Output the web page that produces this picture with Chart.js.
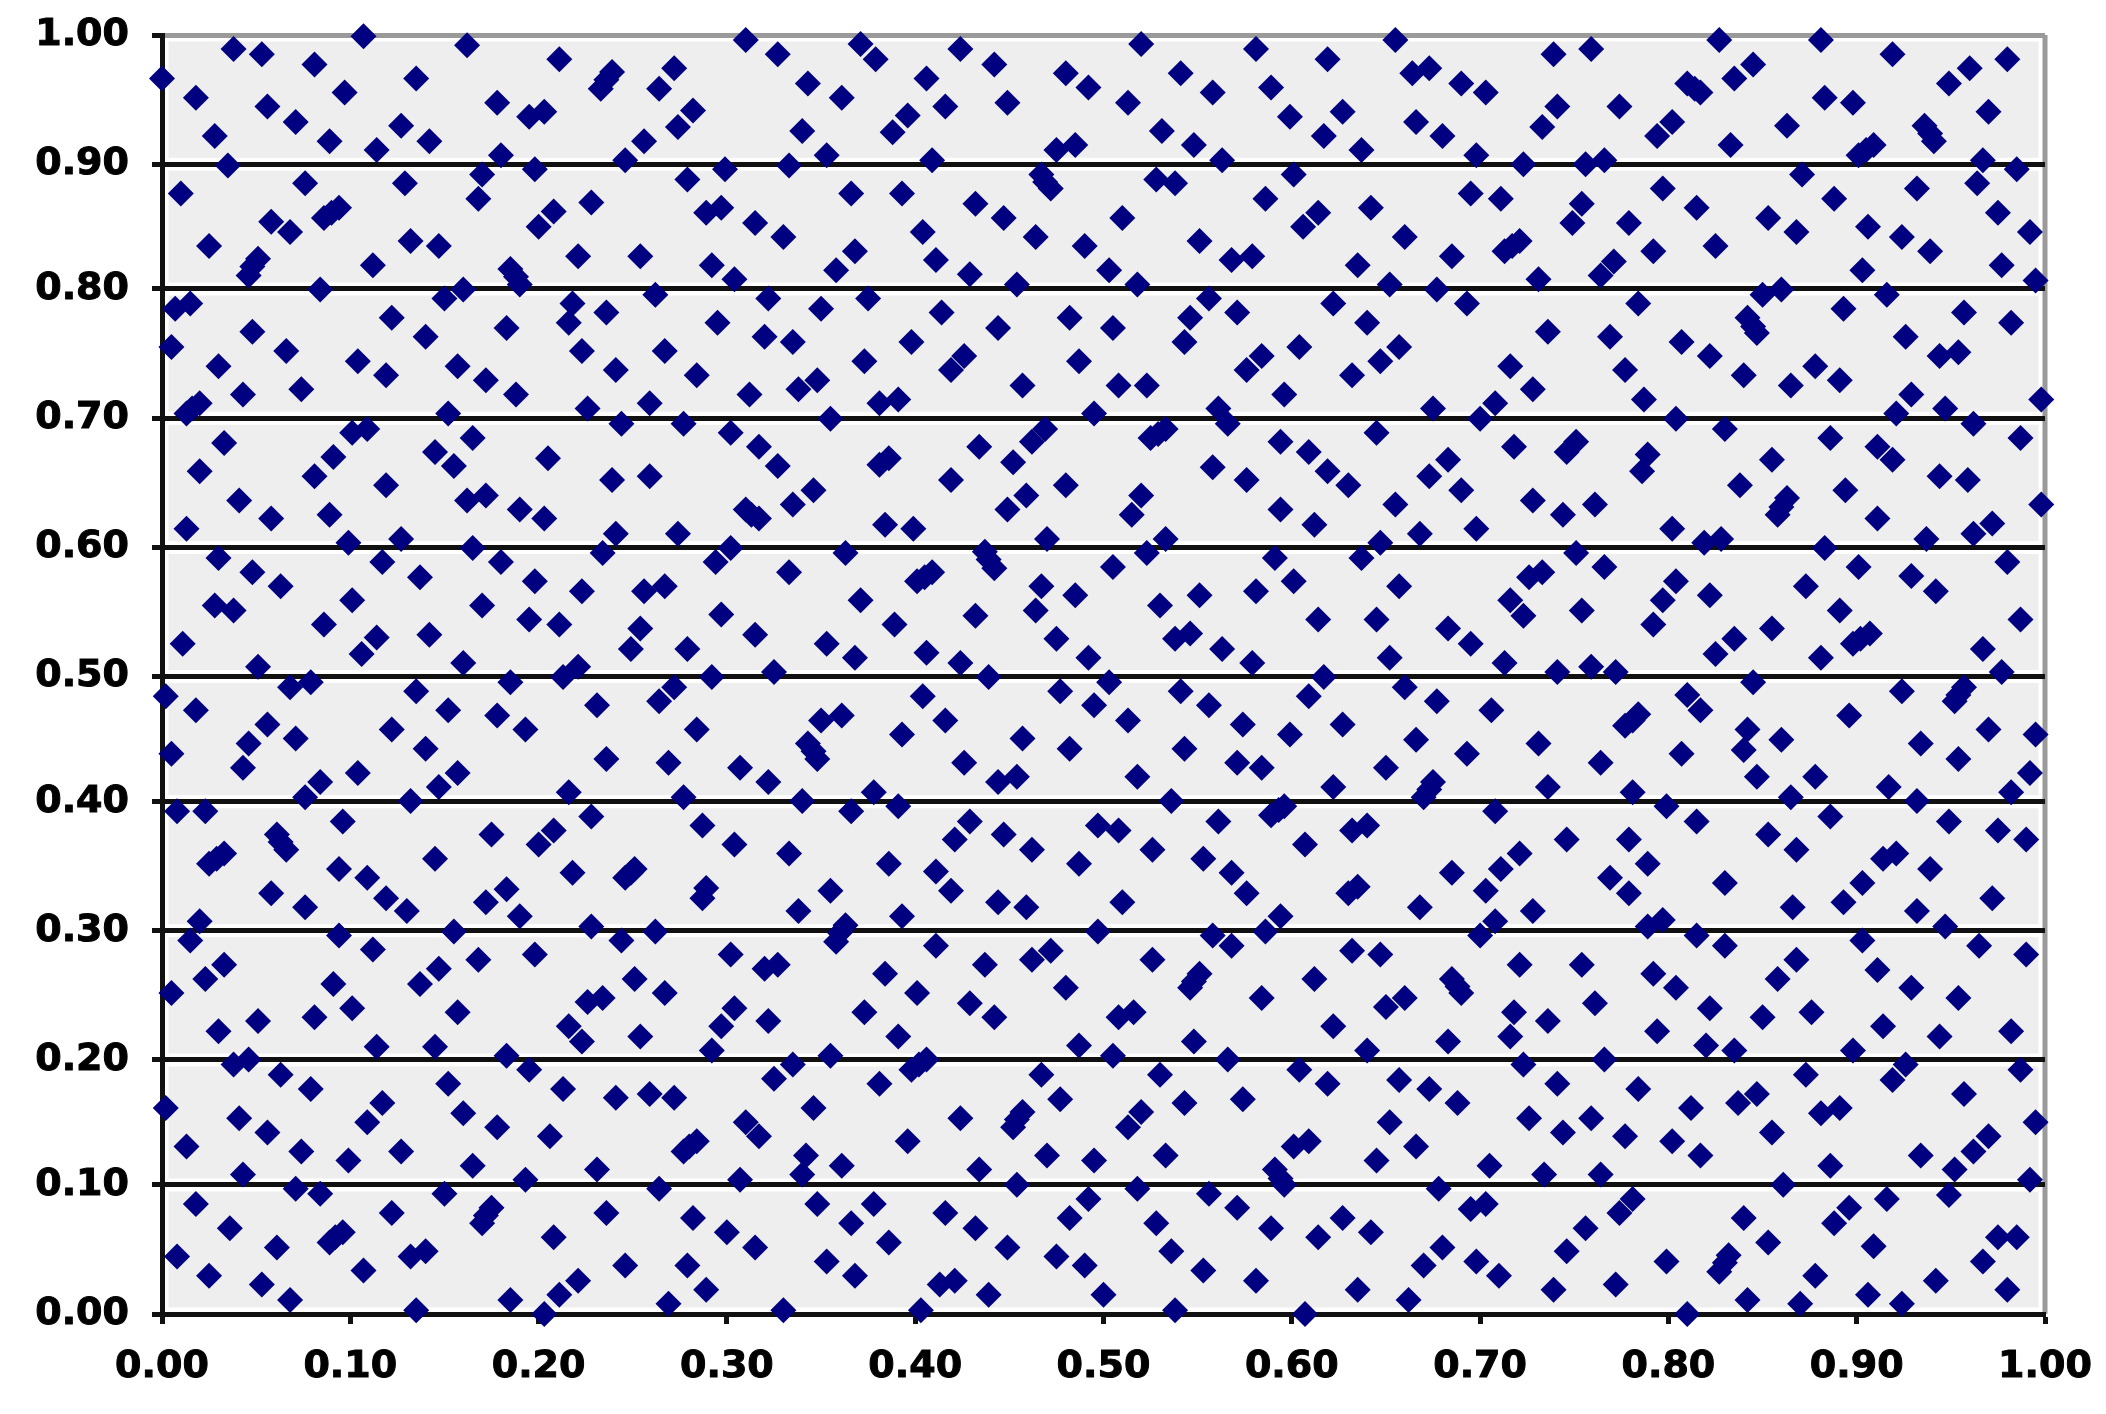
<!DOCTYPE html>
<html>
<head>
<meta charset="utf-8">
<title>Scatter</title>
<script src="https://cdn.jsdelivr.net/npm/chart.js@4/dist/chart.umd.min.js"></script>
<style>
html,body{margin:0;padding:0;background:#fff}
canvas{display:block;filter:blur(0.6px)}
</style>
</head>
<body>
<canvas id="c" width="2106" height="1414"></canvas>
<script>
const xTickLabels = ["0.00","0.10","0.20","0.30","0.40","0.50","0.60","0.70","0.80","0.90","1.00"];
const yTickLabels = ["0.00","0.10","0.20","0.30","0.40","0.50","0.60","0.70","0.80","0.90","1.00"];
const xTickValues = [0,0.1,0.2,0.3,0.4,0.5,0.6,0.7,0.8,0.9,1];
const yTickValues = [0,0.1009,0.1986,0.2996,0.4006,0.4984,0.5993,0.7004,0.8015,0.8990,1];

const pointsTopLeft = [[.107,.999],[.038,.989],[.053,.985],[.081,.977],[0,.966],[.162,.992],[.211,.981],[.239,.971],[.236,.965],[.233,.958],[.272,.974],[.264,.958],[.135,.966],[.097,.955],[.018,.951],[.056,.944],[.071,.932],[.028,.921],[.089,.917],[.114,.910],[.127,.929],[.142,.917],[.178,.947],[.195,.936],[.203,.940],[.310,.996],[.327,.985],[.282,.941],[.274,.928],[.256,.917],[.180,.906],[.246,.902],[.035,.898],[.198,.895],[.299,.895],[.170,.891],[.279,.887],[.076,.884],[.129,.884],[.010,.876],[.168,.872],[.228,.869],[.208,.862],[.200,.850],[.297,.865],[.289,.861],[.315,.853],[.094,.865],[.090,.861],[.086,.857],[.058,.854],[.068,.846],[.132,.839],[.147,.835],[.025,.835],[.221,.827],[.254,.827],[.292,.820],[.051,.825],[.048,.819],[.046,.812],[.112,.820],[.185,.817],[.188,.811],[.190,.805],[.304,.809],[.084,.801],[.160,.801],[.262,.797],[.150,.794],[.322,.794],[.218,.790],[.015,.790],[.007,.786],[.216,.775],[.236,.783],[.122,.779],[.295,.775],[.183,.771],[.048,.768],[.140,.764],[.320,.764],[.005,.756],[.223,.753],[.066,.753],[.267,.753],[.104,.745],[.030,.741],[.157,.741],[.241,.738],[.119,.734],[.284,.734],[.172,.730],[.074,.723],[.043,.719],[.188,.719],[.312,.719],[.020,.712],[.259,.712],[.016,.708],[.013,.704],[.152,.704],[.226,.708],[.244,.696],[.277,.696],[.302,.689],[.109,.692],[.101,.689],[.165,.685],[.033,.681],[.145,.674],[.317,.678],[.091,.670]];

const pointsMidLeft = [[.155,.663],[.205,.669],[.020,.659],[.081,.655],[.239,.652],[.259,.655],[.327,.663],[.119,.648],[.041,.636],[.162,.636],[.172,.640],[.190,.629],[.203,.622],[.058,.622],[.089,.625],[.310,.629],[.313,.625],[.317,.622],[.013,.614],[.241,.610],[.274,.610],[.099,.603],[.127,.606],[.165,.599],[.234,.595],[.302,.599],[.294,.588],[.030,.591],[.117,.588],[.180,.588],[.048,.580],[.137,.576],[.063,.569],[.198,.573],[.223,.565],[.256,.565],[.267,.569],[.101,.558],[.028,.554],[.038,.550],[.170,.554],[.297,.547],[.086,.539],[.195,.543],[.211,.539],[.254,.536],[.142,.531],[.315,.531],[.114,.529],[.106,.516],[.011,.524],[.249,.520],[.279,.520],[.160,.509],[.051,.506],[.221,.506],[.213,.498],[.325,.502],[.292,.498],[.079,.494],[.068,.490],[.185,.494],[.272,.490],[.264,.479],[.135,.487],[.002,.483],[.152,.472],[.018,.472],[.231,.476],[.178,.468],[.056,.461],[.122,.457],[.193,.457],[.284,.457],[.046,.446],[.071,.450],[.140,.442],[.005,.438],[.236,.434],[.269,.431],[.043,.427],[.307,.427],[.157,.423],[.104,.423],[.084,.416],[.076,.404],[.147,.412],[.322,.416],[.216,.408],[.277,.404],[.132,.401],[.008,.393],[.023,.393],[.228,.389],[.096,.385],[.287,.382],[.061,.375],[.063,.369],[.066,.363],[.175,.375],[.208,.378],[.200,.367],[.304,.367],[.033,.360],[.029,.356],[.025,.352],[.145,.356],[.094,.348],[.109,.341],[.218,.345],[.251,.348],[.249,.345],[.246,.341]];

const pointsLowLeft = [[.058,.329],[.076,.318],[.119,.325],[.130,.315],[.172,.322],[.183,.332],[.190,.311],[.287,.325],[.289,.333],[.020,.307],[.015,.292],[.094,.296],[.155,.299],[.228,.303],[.244,.292],[.262,.299],[.112,.285],[.198,.281],[.168,.277],[.033,.273],[.023,.262],[.302,.281],[.147,.270],[.137,.258],[.320,.270],[.327,.273],[.091,.258],[.005,.251],[.251,.262],[.267,.251],[.101,.239],[.234,.247],[.226,.244],[.157,.236],[.304,.239],[.081,.232],[.051,.229],[.030,.221],[.322,.229],[.297,.225],[.216,.225],[.223,.213],[.254,.217],[.114,.209],[.145,.209],[.292,.206],[.183,.202],[.046,.199],[.038,.195],[.063,.187],[.195,.191],[.152,.180],[.325,.184],[.079,.176],[.213,.176],[.241,.169],[.259,.172],[.272,.169],[.117,.165],[.002,.161],[.160,.157],[.041,.153],[.109,.150],[.178,.146],[.310,.150],[.317,.139],[.056,.142],[.206,.139],[.284,.135],[.280,.131],[.277,.127],[.013,.131],[.074,.127],[.127,.127],[.099,.120],[.165,.116],[.043,.109],[.231,.113],[.193,.105],[.307,.105],[.071,.098],[.084,.094],[.264,.098],[.150,.094],[.018,.086],[.175,.083],[.172,.077],[.122,.079],[.236,.079],[.170,.071],[.282,.075],[.036,.067],[.300,.064],[.096,.064],[.092,.060],[.089,.056],[.208,.060],[.061,.052],[.315,.052],[.140,.049],[.132,.045],[.008,.045],[.246,.038],[.279,.038],[.025,.030],[.107,.034],[.221,.026],[.053,.023],[.211,.015],[.289,.019],[.068,.011],[.185,.011],[.135,.003],[.269,.008],[.203,0]];

const pointsTopMid = [[.371,.993],[.379,.981],[.424,.989],[.442,.977],[.520,.993],[.581,.989],[.655,.996],[.619,.981],[.343,.962],[.361,.951],[.406,.966],[.480,.970],[.492,.959],[.541,.970],[.558,.955],[.589,.959],[.416,.944],[.449,.947],[.513,.947],[.396,.937],[.388,.924],[.599,.936],[.627,.940],[.340,.925],[.531,.925],[.617,.921],[.548,.914],[.485,.914],[.475,.910],[.353,.906],[.637,.910],[.333,.898],[.409,.902],[.563,.902],[.467,.891],[.469,.885],[.472,.880],[.601,.891],[.528,.887],[.538,.884],[.366,.876],[.393,.876],[.586,.872],[.432,.868],[.642,.865],[.447,.857],[.510,.857],[.614,.861],[.606,.850],[.404,.846],[.464,.842],[.330,.842],[.660,.842],[.551,.839],[.368,.831],[.490,.835],[.411,.824],[.579,.827],[.568,.824],[.358,.816],[.635,.820],[.503,.816],[.429,.813],[.454,.805],[.518,.805],[.652,.805],[.375,.794],[.556,.794],[.350,.786],[.622,.790],[.414,.783],[.571,.783],[.482,.779],[.546,.779],[.640,.775],[.444,.771],[.505,.771],[.335,.760],[.398,.760],[.543,.760],[.604,.756],[.657,.756],[.426,.749],[.419,.738],[.584,.749],[.576,.738],[.373,.745],[.487,.745],[.647,.745],[.632,.734],[.348,.730],[.338,.723],[.457,.726],[.508,.726],[.523,.726],[.596,.719],[.391,.715],[.381,.712],[.561,.708],[.495,.704],[.355,.700],[.566,.696],[.469,.692],[.645,.689],[.533,.692],[.525,.685],[.529,.688],[.462,.682],[.434,.678],[.594,.682],[.609,.674]];

const pointsMidMid = [[.381,.664],[.386,.669],[.346,.644],[.335,.633],[.419,.652],[.452,.666],[.558,.662],[.576,.652],[.619,.659],[.630,.648],[.480,.648],[.459,.640],[.449,.629],[.520,.640],[.515,.625],[.594,.629],[.655,.633],[.612,.617],[.384,.617],[.399,.614],[.470,.606],[.533,.606],[.647,.603],[.363,.595],[.437,.596],[.439,.590],[.442,.583],[.523,.595],[.591,.591],[.637,.591],[.333,.580],[.505,.584],[.409,.580],[.405,.576],[.401,.573],[.601,.573],[.657,.569],[.467,.569],[.485,.562],[.581,.565],[.551,.562],[.371,.558],[.530,.554],[.464,.550],[.432,.546],[.614,.543],[.645,.543],[.389,.539],[.546,.532],[.538,.528],[.475,.528],[.353,.524],[.563,.520],[.492,.513],[.368,.513],[.406,.517],[.652,.513],[.579,.509],[.424,.509],[.439,.498],[.617,.498],[.503,.494],[.477,.487],[.541,.487],[.660,.490],[.404,.483],[.609,.483],[.495,.476],[.556,.476],[.361,.468],[.350,.464],[.416,.464],[.513,.464],[.574,.461],[.627,.461],[.393,.453],[.599,.453],[.457,.450],[.343,.446],[.346,.440],[.348,.434],[.482,.442],[.543,.442],[.426,.431],[.571,.431],[.584,.427],[.650,.427],[.518,.420],[.454,.420],[.444,.416],[.622,.412],[.378,.408],[.340,.401],[.536,.401],[.391,.397],[.596,.397],[.593,.394],[.589,.390],[.366,.393],[.429,.385],[.561,.385],[.497,.382],[.508,.378],[.640,.382],[.632,.378],[.447,.375],[.421,.371],[.607,.367],[.462,.363],[.526,.363],[.553,.356],[.333,.360],[.487,.352],[.386,.352],[.411,.346],[.568,.345]];

const pointsLowMid = [[.355,.331],[.419,.331],[.444,.322],[.459,.318],[.510,.322],[.576,.329],[.630,.329],[.635,.334],[.338,.315],[.363,.304],[.360,.298],[.358,.291],[.393,.311],[.497,.299],[.594,.311],[.586,.299],[.558,.296],[.568,.288],[.411,.288],[.437,.273],[.462,.277],[.472,.284],[.526,.277],[.632,.284],[.647,.281],[.384,.266],[.551,.266],[.548,.260],[.546,.255],[.480,.255],[.612,.262],[.401,.251],[.584,.247],[.429,.243],[.660,.247],[.650,.240],[.373,.236],[.516,.236],[.508,.232],[.442,.232],[.622,.225],[.391,.217],[.548,.213],[.487,.210],[.640,.206],[.355,.202],[.335,.195],[.505,.202],[.406,.199],[.402,.195],[.398,.191],[.566,.199],[.604,.191],[.467,.187],[.530,.187],[.657,.183],[.381,.180],[.619,.180],[.477,.168],[.574,.168],[.543,.165],[.346,.161],[.457,.158],[.454,.152],[.452,.146],[.520,.158],[.424,.153],[.513,.146],[.652,.150],[.609,.135],[.601,.131],[.396,.135],[.342,.124],[.470,.124],[.533,.124],[.361,.116],[.495,.120],[.645,.120],[.591,.113],[.594,.106],[.596,.101],[.434,.113],[.340,.109],[.454,.101],[.518,.098],[.556,.094],[.492,.090],[.348,.086],[.378,.086],[.571,.083],[.416,.079],[.482,.075],[.627,.075],[.366,.071],[.528,.071],[.432,.067],[.589,.067],[.614,.060],[.642,.064],[.386,.056],[.449,.052],[.536,.049],[.353,.041],[.475,.045],[.490,.038],[.553,.034],[.368,.030],[.421,.026],[.413,.023],[.581,.026],[.635,.019],[.439,.015],[.500,.015],[.662,.011],[.403,.003],[.538,.003],[.607,0],[.330,.003]];

const pointsTopRight = [[.739,.985],[.759,.989],[.827,.996],[.881,.996],[.919,.985],[.980,.981],[.673,.974],[.664,.970],[.690,.962],[.703,.955],[.845,.977],[.835,.966],[.960,.974],[.949,.962],[.810,.962],[.814,.958],[.817,.955],[.883,.951],[.898,.947],[.774,.944],[.741,.944],[.970,.940],[.666,.932],[.733,.928],[.802,.932],[.794,.921],[.863,.929],[.680,.921],[.936,.929],[.939,.923],[.941,.917],[.833,.914],[.909,.914],[.905,.910],[.901,.906],[.698,.906],[.723,.899],[.756,.899],[.766,.902],[.967,.902],[.985,.895],[.871,.891],[.797,.880],[.695,.876],[.711,.872],[.932,.880],[.964,.884],[.888,.872],[.754,.868],[.815,.865],[.975,.861],[.853,.857],[.749,.853],[.779,.853],[.906,.850],[.868,.846],[.992,.846],[.924,.842],[.721,.839],[.717,.835],[.713,.831],[.792,.831],[.939,.831],[.825,.835],[.685,.827],[.771,.823],[.764,.812],[.903,.816],[.977,.820],[.731,.809],[.677,.801],[.995,.808],[.860,.801],[.850,.797],[.916,.797],[.693,.790],[.784,.790],[.893,.786],[.957,.783],[.842,.779],[.845,.772],[.847,.767],[.982,.775],[.736,.768],[.769,.764],[.926,.764],[.807,.760],[.822,.749],[.954,.752],[.944,.749],[.716,.741],[.777,.738],[.878,.741],[.840,.734],[.891,.730],[.865,.726],[.728,.723],[.929,.719],[.787,.715],[.998,.715],[.708,.712],[.675,.708],[.700,.700],[.947,.708],[.804,.700],[.921,.704],[.962,.696],[.830,.692],[.886,.685],[.987,.685],[.718,.678],[.751,.682],[.746,.674],[.911,.678],[.683,.668],[.789,.672],[.855,.668],[.919,.668]];

const pointsMidRight = [[.673,.655],[.690,.644],[.786,.659],[.728,.636],[.744,.625],[.761,.633],[.838,.648],[.863,.638],[.860,.631],[.858,.625],[.894,.644],[.944,.655],[.959,.652],[.998,.633],[.911,.622],[.972,.618],[.962,.610],[.668,.610],[.698,.614],[.802,.614],[.828,.606],[.819,.603],[.937,.606],[.883,.599],[.751,.595],[.980,.588],[.766,.584],[.901,.584],[.929,.577],[.733,.580],[.726,.576],[.804,.573],[.873,.569],[.942,.565],[.716,.558],[.797,.558],[.822,.562],[.723,.546],[.754,.550],[.891,.550],[.792,.539],[.987,.543],[.683,.536],[.855,.536],[.835,.528],[.695,.524],[.907,.532],[.902,.528],[.898,.524],[.967,.520],[.825,.516],[.881,.513],[.713,.509],[.759,.506],[.741,.502],[.772,.502],[.977,.502],[.845,.494],[.924,.487],[.810,.484],[.957,.490],[.954,.484],[.952,.479],[.677,.479],[.817,.472],[.706,.472],[.784,.469],[.781,.464],[.777,.460],[.896,.468],[.842,.457],[.970,.457],[.666,.449],[.995,.453],[.860,.449],[.840,.441],[.934,.446],[.731,.446],[.693,.438],[.807,.438],[.764,.431],[.954,.434],[.847,.420],[.878,.420],[.992,.423],[.675,.416],[.673,.410],[.670,.404],[.736,.412],[.781,.408],[.917,.412],[.982,.408],[.865,.404],[.799,.397],[.932,.401],[.708,.393],[.886,.389],[.815,.385],[.949,.385],[.746,.371],[.779,.371],[.975,.378],[.853,.375],[.990,.371],[.868,.363],[.721,.360],[.921,.360],[.914,.356],[.789,.352],[.939,.348],[.711,.348],[.685,.345],[.769,.341],[.830,.337],[.903,.337]];

const pointsLowRight = [[.668,.318],[.703,.331],[.779,.329],[.866,.318],[.893,.322],[.972,.325],[.932,.315],[.728,.315],[.708,.307],[.700,.296],[.789,.303],[.797,.308],[.815,.296],[.830,.288],[.903,.292],[.947,.303],[.965,.288],[.990,.281],[.721,.273],[.754,.273],[.868,.277],[.792,.266],[.685,.262],[.688,.256],[.690,.251],[.858,.262],[.804,.255],[.911,.269],[.929,.255],[.954,.247],[.761,.243],[.822,.239],[.914,.225],[.850,.232],[.876,.236],[.718,.236],[.736,.229],[.794,.221],[.982,.221],[.716,.217],[.683,.213],[.944,.217],[.820,.210],[.835,.206],[.898,.206],[.766,.199],[.723,.195],[.926,.195],[.919,.183],[.873,.187],[.987,.191],[.673,.176],[.741,.180],[.784,.176],[.847,.172],[.837,.165],[.957,.172],[.688,.165],[.812,.161],[.726,.153],[.891,.161],[.881,.157],[.759,.153],[.744,.142],[.995,.150],[.855,.142],[.777,.139],[.802,.135],[.666,.131],[.970,.139],[.962,.127],[.817,.124],[.934,.124],[.705,.116],[.886,.116],[.734,.109],[.764,.109],[.952,.113],[.678,.098],[.861,.101],[.992,.105],[.781,.090],[.774,.079],[.703,.086],[.695,.082],[.916,.090],[.949,.093],[.896,.083],[.888,.071],[.840,.075],[.756,.067],[.680,.052],[.853,.056],[.909,.053],[.975,.060],[.985,.060],[.670,.038],[.698,.041],[.746,.049],[.799,.041],[.832,.046],[.830,.040],[.827,.033],[.967,.041],[.710,.030],[.878,.030],[.942,.026],[.739,.019],[.772,.023],[.980,.019],[.842,.011],[.906,.015],[.870,.008],[.924,.008],[.810,0]];

const allPoints = [].concat(pointsTopLeft, pointsMidLeft, pointsLowLeft, pointsTopMid, pointsMidMid, pointsLowMid, pointsTopRight, pointsMidRight, pointsLowRight);

const NAVY = '#000080', AXIS = '#111111', FRAME = '#9a9a9a', PLOT_BG = '#eeeeee';
const tickFont = {family: '"DejaVu Sans"', weight: 'bold', size: 38};

const plotBackdrop = {
  id: 'plotBackdrop',
  beforeDraw(chart) {
    const {ctx, chartArea: a, scales} = chart;
    ctx.save();
    ctx.fillStyle = PLOT_BG;
    ctx.fillRect(a.left, a.top, a.right - a.left, a.bottom - a.top);
    ctx.strokeStyle = '#ffffff';
    ctx.lineWidth = 13;
    scales.y.ticks.forEach(t => {
      const y = scales.y.getPixelForValue(t.value);
      ctx.beginPath(); ctx.moveTo(a.left, y); ctx.lineTo(a.right, y); ctx.stroke();
    });
    [a.left, a.right].forEach(x => {
      ctx.beginPath(); ctx.moveTo(x, a.top); ctx.lineTo(x, a.bottom); ctx.stroke();
    });
    ctx.strokeStyle = FRAME;
    ctx.lineWidth = 5;
    ctx.beginPath(); ctx.moveTo(a.right, a.top); ctx.lineTo(a.right, a.bottom); ctx.stroke();
    ctx.restore();
  }
};

new Chart(document.getElementById('c'), {
  type: 'scatter',
  plugins: [plotBackdrop],
  data: {
    datasets: [{
      data: allPoints.map(p => ({x: p[0], y: p[1]})),
      pointStyle: 'rectRot',
      pointRadius: 13,
      pointBackgroundColor: NAVY,
      pointBorderColor: NAVY,
      pointBorderWidth: 0,
      showLine: false,
      clip: false
    }]
  },
  options: {
    responsive: false,
    animation: false,
    events: [],
    layout: {padding: {top: 35, right: 61, left: 0, bottom: 0}},
    plugins: {legend: {display: false}, tooltip: {enabled: false}, title: {display: false}},
    scales: {
      x: {
        type: 'linear', min: 0, max: 1,
        afterFit(s) { s.height = 100; s.paddingLeft = 0; s.paddingRight = 0; },
        afterBuildTicks(s) { s.ticks = xTickValues.map(v => ({value: v})); },
        grid: {drawOnChartArea: false, drawTicks: true, tickLength: 10, tickWidth: 5, tickColor: AXIS},
        border: {display: true, color: AXIS, width: 5},
        ticks: {
          autoSkip: false, maxRotation: 0, minRotation: 0, padding: 20, color: '#000',
          font: tickFont, textStrokeColor: '#000', textStrokeWidth: 1,
          callback: (v, i) => xTickLabels[i]
        }
      },
      y: {
        type: 'linear', min: 0, max: 1,
        afterFit(s) { s.width = 162; s.paddingTop = 0; s.paddingBottom = 0; },
        afterBuildTicks(s) { s.ticks = yTickValues.map(v => ({value: v})); },
        grid: {
          drawOnChartArea: true, drawTicks: true, tickLength: 10, tickWidth: 5, lineWidth: 5,
          tickColor: AXIS,
          color: c => (c.tick && c.tick.value === 1 ? FRAME : AXIS)
        },
        border: {display: true, color: AXIS, width: 5},
        ticks: {
          autoSkip: false, padding: 23, color: '#000',
          font: tickFont, textStrokeColor: '#000', textStrokeWidth: 1,
          callback: (v, i) => yTickLabels[i]
        }
      }
    }
  }
});
</script>
</body>
</html>
